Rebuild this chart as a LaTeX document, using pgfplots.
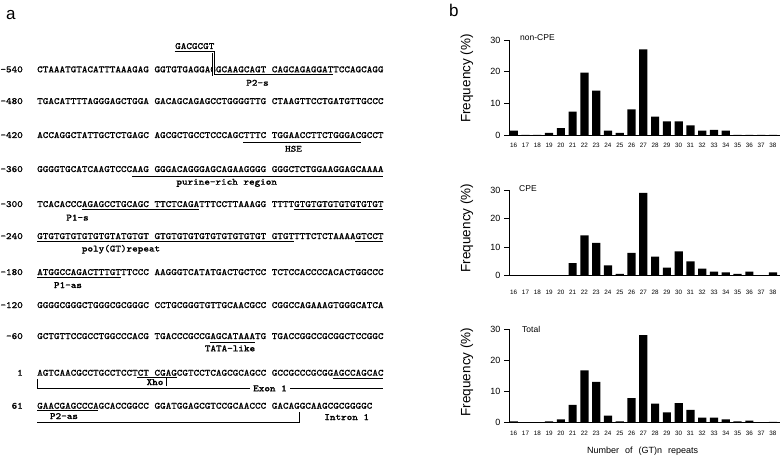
\documentclass[border=0pt]{standalone}
\usepackage{fontspec}
\setmainfont{Liberation Sans}
\newfontfamily\seqff[FakeStretch=1.12,FakeBold=1.0]{Latin Modern Mono}
\usepackage{pgfplots}
\pgfplotsset{compat=1.18}
\usepackage{pgfplotstable}

\pgfplotstableread{
n f
16 1.4
17 0
18 0
19 0.7
20 2.2
21 7.4
22 19.7
23 14.0
24 1.4
25 0.7
26 8.1
27 27.0
28 5.8
29 4.3
30 4.3
31 3.0
32 1.4
33 1.6
34 1.4
35 0
36 0
37 0
38 0
}\noncpe

\pgfplotstableread{
n f
16 0
17 0
18 0
19 0
20 0
21 4.4
22 14.1
23 11.5
24 3.6
25 0.6
26 8.0
27 29.0
28 6.7
29 2.8
30 8.5
31 5.0
32 2.5
33 1.4
34 1.2
35 0.6
36 1.4
37 0
38 1.2
}\cpe

\pgfplotstableread{
n f
16 0.4
17 0
18 0
19 0.4
20 1.1
21 5.7
22 16.8
23 13.1
24 2.3
25 0.4
26 7.9
27 28.1
28 6.1
29 3.3
30 6.3
31 4.1
32 1.6
33 1.6
34 1.1
35 0.4
36 0.7
37 0
38 0.3
}\total

\pgfplotsset{
  gt/.style={
    scale only axis, width=271pt,
    xmin=15.6, xmax=38.6, ymin=0, ymax=30,
    axis x line=bottom, axis y line=left,
    axis line style={-, line width=0.8pt},
    xtick={16,...,38}, ytick={0,10,20,30},
    tick align=outside, major tick length=5pt,
    x tick style={draw=none},
    y tick style={line width=0.8pt, black},
    xticklabel style={font=\fontsize{6.3}{7}\selectfont},
    yticklabel style={font=\fontsize{9}{10}\selectfont},
    /pgf/number format/assume math mode=true,
    ybar, bar width=8.2pt,
    anchor=south west,
    clip=false,
  }
}

\newcommand\sq{\seqff\fontsize{9.5}{10}\selectfont}
\newcommand\seqline[3]{%
  \node[anchor=base east,inner sep=0pt,font=\sq] at (23,{#2+3}) {#1};
  \node[anchor=base west,inner sep=0pt,font=\sq] at (37,{#2+3}) {#3};}
\newcommand\lab[3]{\node[anchor=base,inner sep=0pt,font=\sq] at (#1,{#2+3}) {#3};}
\newcommand\ul[4][6]{\draw[line width=0.9pt] ({37+5.58*#2},{#4+#1}) -- ({37+5.58*#3},{#4+#1});}
\newcommand\dul[4][6]{\draw[dbl] ({37+5.58*#2},{#4+#1}) -- ({37+5.58*#3},{#4+#1});}

\begin{document}
\begin{tikzpicture}[x=1pt,y=-1pt,dbl/.style={double,double distance=0.8pt,line width=0.65pt}]
\useasboundingbox (0,0) rectangle (784,457);

% panel letters
\node[anchor=base west,inner sep=0pt,font=\fontsize{17}{18}\selectfont] at (6,20) {a};
\node[anchor=base west,inner sep=0pt,font=\fontsize{17}{18}\selectfont] at (449,17) {b};

% ---------- sequence panel ----------
\seqline{-540}{69.3}{CTAAATGTACATTTAAAGAG GGTGTGAGGAGGCAAGCAGT CAGCAGAGGATTCCAGCAGG}
\seqline{-480}{101}{TGACATTTTAGGGAGCTGGA GACAGCAGAGCCTGGGGTTG CTAAGTTCCTGATGTTGCCC}
\seqline{-420}{135}{ACCAGGCTATTGCTCTGAGC AGCGCTGCCTCCCAGCTTTC TGGAACCTTCTGGGACGCCT}
\seqline{-360}{169}{GGGGTGCATCAAGTCCCAAG GGGACAGGGAGCAGAAGGGG GGGCTCTGGAAGGAGCAAAA}
\seqline{-300}{204}{TCACACCCAGAGCCTGCAGC TTCTCAGATTTCCTTAAAGG TTTTGTGTGTGTGTGTGTGT}
\seqline{-240}{236}{GTGTGTGTGTGTGTATGTGT GTGTGTGTGTGTGTGTGTGT GTGTTTTCTCTAAAAGTCCT}
\seqline{-180}{272}{ATGGCCAGACTTTGTTTCCC AAGGGTCATATGACTGCTCC TCTCCACCCCACACTGGCCC}
\seqline{-120}{305}{GGGGCGGGCTGGGCGCGGGC CCTGCGGGTGTTGCAACGCC CGGCCAGAAAGTGGGCATCA}
\seqline{-60}{336}{GCTGTTCCGCCTGGCCCACG TGACCCGCCGAGCATAAATG TGACCGGCCGCGGCTCCGGC}
\seqline{1}{372.7}{AGTCAACGCCTGCCTCCTCT CGAGCGTCCTCAGCGCAGCC GCCGCCCGCGGAGCCAGCAC}
\seqline{61}{405.7}{GAACGAGCCCAGCACCGGCC GGATGGAGCGTCCGCAACCC GACAGGCAAGCGCGGGGC}

% mutation / P2-s
\node[anchor=base west,inner sep=0pt,font=\sq] at (175,49) {GACGCGT};
\draw[dbl] (174.5,52) -- (213.5,52) -- (213.5,75.3) -- ({37+5.58*53},75.3);
\lab{257.5}{82.7}{P2-s}
% HSE
\ul[7]{37}{58}{135}
\lab{293.5}{148.7}{HSE}
% purine-rich
\ul[7]{17}{62}{169}
\lab{226.7}{181.7}{purine-rich region}
% P1-s
\dul{8}{29}{204}
\lab{77.5}{217.5}{P1-s}
% poly(GT)
\dul{46}{62}{204}
\dul{0}{46}{236}
\lab{121}{248.5}{poly(GT)repeat}
% P1-as
\dul{57}{62}{236}
\dul{0}{15}{272}
\lab{68}{285}{P1-as}
% TATA-like
\ul{31}{39}{336}
\lab{230}{348.3}{TATA-like}
% Xho
\ul[4.6]{18}{25}{372.7}
\lab{155}{382}{Xho}
\draw[line width=0.8pt] (166.7,377) -- (166.7,385.5);
% P2-as
\dul[5]{53}{62}{372.7}
\dul[5.5]{0}{11}{405.7}
\lab{64}{416}{P2-as}
% exon / intron brackets
\draw[line width=0.8pt] (37,379) -- (37,388.3) -- (250,388.3);
\draw[line width=0.8pt] (290,388.3) -- (383,388.3);
\lab{270}{388.3}{Exon 1}
\draw[line width=0.8pt] (37,422) -- (299.3,422) -- (299.3,411.5);
\lab{346.7}{417}{Intron 1}

% ---------- bar charts ----------
\begin{axis}[gt, height=95pt, at={(509pt,-135pt)}]
\addplot[fill=black, draw=none, bar shift=0pt] table[x=n,y=f]{\noncpe};
\end{axis}
\begin{axis}[gt, height=85.7pt, at={(509pt,-275.7pt)}, xticklabel style={yshift=-5.5pt}]
\addplot[fill=black, draw=none, bar shift=0pt] table[x=n,y=f]{\cpe};
\end{axis}
\begin{axis}[gt, height=93.4pt, at={(509pt,-422.7pt)}]
\addplot[fill=black, draw=none, bar shift=0pt] table[x=n,y=f]{\total};
\end{axis}

\node[anchor=west,inner sep=0pt,font=\fontsize{8.5}{9}\selectfont] at (520,38) {non-CPE};
\node[anchor=west,inner sep=0pt,font=\fontsize{8.5}{9}\selectfont] at (519,189) {CPE};
\node[anchor=west,inner sep=0pt,font=\fontsize{8.5}{9}\selectfont] at (522,329) {Total};

\foreach \yy in {78.5,228,372}{
  \node[rotate=90,inner sep=0pt,font=\fontsize{13.5}{14}\selectfont] at (467,\yy) {Frequency (\%)};
}
\node[anchor=base west,inner sep=0pt,font=\fontsize{9}{10}\selectfont] at (587,453) {Number\hspace{6pt}of\hspace{6pt}(GT)n\hspace{6pt}repeats};
\end{tikzpicture}
\end{document}
